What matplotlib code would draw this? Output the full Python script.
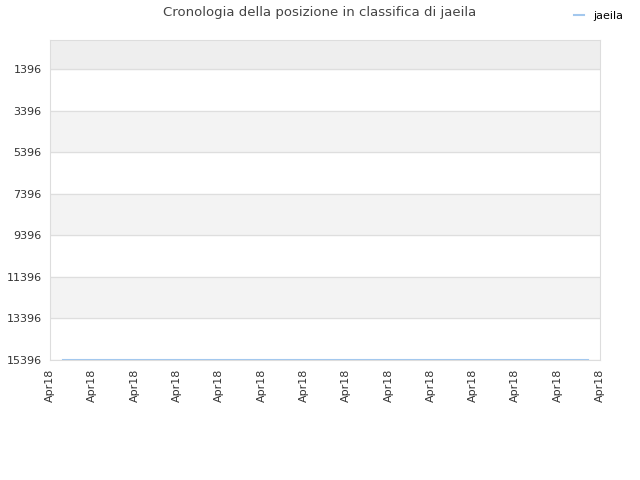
import matplotlib.pyplot as plt
import numpy as np

# x positions are tick slots (14 labels "Apr18"), y is the ranking
tick_labels = ["Apr18"] * 14
rank_x = [0.31, 12.72]
rank_y = [15380, 15380]
y_ticks = [1396, 3396, 5396, 7396, 9396, 11396, 13396, 15396]

fig = plt.figure(figsize=(6.4, 4.8), dpi=100)
ax = fig.add_axes([0.078, 0.25, 0.8595, 0.6667])

ax.set_xlim(0, len(tick_labels) - 1)
ax.set_ylim(15396, 0)

# background bands
ax.axhspan(0, 1396, color="#eeeeee", zorder=0)
for i in range(len(y_ticks) - 1):
    if i % 2 == 1:
        ax.axhspan(y_ticks[i], y_ticks[i + 1], color="#f3f3f3", zorder=0)
for t in y_ticks:
    ax.axhline(t, color="#dedede", lw=0.9, zorder=1)

ax.plot(rank_x, rank_y, color="#a3c8ee", lw=1.5, label="jaeila", zorder=3)

ax.set_yticks(y_ticks)
ax.set_yticklabels([str(t) for t in y_ticks])
ax.set_xticks(np.arange(len(tick_labels)))
ax.set_xticklabels(tick_labels, rotation=90)
ax.tick_params(length=0, labelsize=8, colors="#333333", pad=6)

for s in ax.spines.values():
    s.set_color("#dddddd")

fig.text(0.5, 0.988, "Cronologia della posizione in classifica di jaeila",
         ha="center", va="top", fontsize=9.5, color="#444444")
fig.legend(loc="upper right", bbox_to_anchor=(0.99, 0.998), frameon=False,
           fontsize=8, handlelength=0.9, handletextpad=0.9)

fig.savefig("out.png", dpi=100)
